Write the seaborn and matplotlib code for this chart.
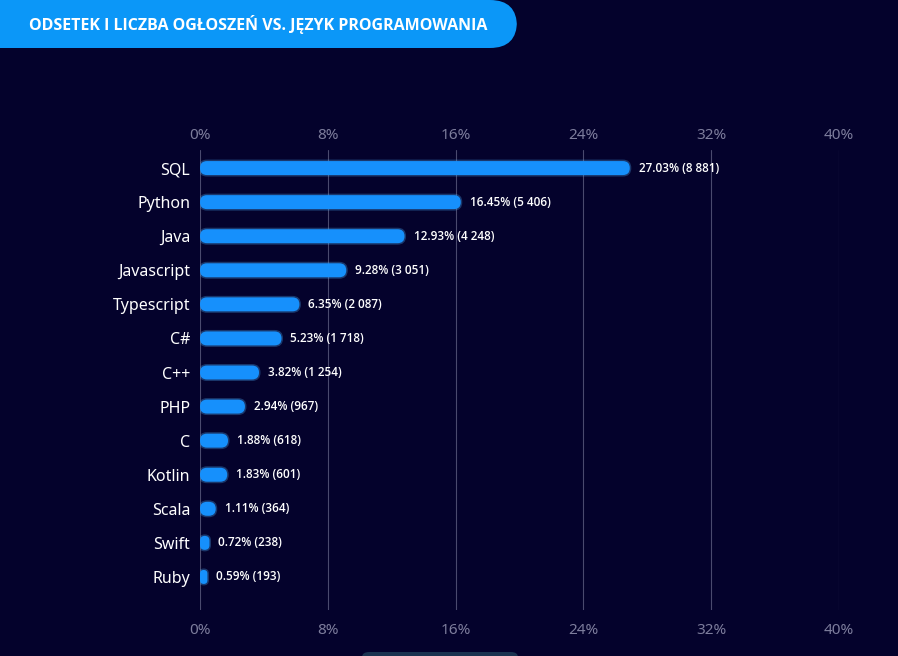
import matplotlib
matplotlib.use("Agg")
import matplotlib.pyplot as plt
from matplotlib.patches import FancyBboxPatch
from matplotlib.transforms import IdentityTransform
import pandas as pd
import seaborn as sns

languages = ["SQL", "Python", "Java", "Javascript", "Typescript", "C#", "C++",
             "PHP", "C", "Kotlin", "Scala", "Swift", "Ruby"]
shares = [27.03, 16.45, 12.93, 9.28, 6.35, 5.23, 3.82, 2.94, 1.88, 1.83, 1.11, 0.72, 0.59]
counts = [8881, 5406, 4248, 3051, 2087, 1718, 1254, 967, 618, 601, 364, 238, 193]
ticks = [0, 8, 16, 24, 32, 40]
title = "ODSETEK I LICZBA OGŁOSZEŃ VS. JĘZYK PROGRAMOWANIA"

bg = "#04022c"
bar_color = "#1690fc"
banner_color = "#0b97f8"
grid_color = "#4a4a6e"
tick_color = "#7d7d9c"

sns.set_theme(style="dark")
plt.rcParams["font.family"] = ["Noto Sans", "DejaVu Sans"]

df = pd.DataFrame({"lang": languages, "share": shares, "count": counts})

fig = plt.figure(figsize=(8.98, 6.56), dpi=100, facecolor=bg)
ax = fig.add_axes([200 / 898, 46 / 656, 639 / 898, 460 / 656])
ax.set_facecolor(bg)

sns.barplot(data=df, x="share", y="lang", color=bar_color, width=0.41, ax=ax)

ax.set_xlim(0, 40)
ax.set_ylim(12.97, -0.53)
ax.set_xticks(ticks)
ax.set_xticklabels([f"{t}%" for t in ticks])
ax.set_xlabel("")
ax.set_ylabel("")
for s in ax.spines.values():
    s.set_visible(False)
ax.grid(False)
for t in ticks:
    ax.axvline(t, color=grid_color, lw=0.8, zorder=0)

ax.tick_params(axis="x", length=0, pad=9, colors=tick_color, labelsize=11)
ax.tick_params(axis="y", length=0, pad=7, colors="white", labelsize=11.5)

top = ax.secondary_xaxis("top")
top.set_xticks(ticks)
top.set_xticklabels([f"{t}%" for t in ticks])
top.tick_params(axis="x", length=0, pad=5, colors=tick_color, labelsize=11)
for s in top.spines.values():
    s.set_visible(False)

# swap plain bars for rounded pills with a soft glow
fig.canvas.draw()
for patch in list(ax.patches):
    bb = patch.get_window_extent()
    patch.set_visible(False)
    w = max(bb.width - 2, 1.0)
    h = bb.height
    r = min(w, h) / 2
    ax.add_patch(FancyBboxPatch((bb.x0 - 1.5, bb.y0 - 1.5), w + 3, h + 3,
                                boxstyle=f"round,pad=0,rounding_size={r + 1.5}",
                                transform=IdentityTransform(), facecolor="#4db2ff",
                                alpha=0.3, lw=0, zorder=2))
    ax.add_patch(FancyBboxPatch((bb.x0, bb.y0), w, h,
                                boxstyle=f"round,pad=0,rounding_size={r}",
                                transform=IdentityTransform(), facecolor=bar_color,
                                lw=0, zorder=3))

for i, (v, c) in enumerate(zip(shares, counts)):
    label = f"{v:.2f}% ({c:,})".replace(",", " ")
    ax.annotate(label, (v, i), xytext=(5, 0), textcoords="offset points",
                va="center", ha="left", color="white", fontsize=8.5,
                fontweight="semibold", family=["Open Sans", "DejaVu Sans"])

# title banner
fig.patches.append(FancyBboxPatch((-30 / 898, 608 / 656), 547 / 898, 48 / 656,
                                  boxstyle="round,pad=0,rounding_size=0.03",
                                  mutation_aspect=898 / 656,
                                  transform=fig.transFigure, facecolor=banner_color,
                                  lw=0, zorder=1))
fig.text(258 / 898, 631 / 656, title, color="white", fontsize=11.5, fontweight="bold",
         ha="center", va="center", family=["Open Sans", "DejaVu Sans"])

# bottom partial tab
fig.patches.append(FancyBboxPatch((362 / 898, -10 / 656), 156 / 898, 14 / 656,
                                  boxstyle="round,pad=0,rounding_size=0.008",
                                  transform=fig.transFigure, facecolor="#1a3350",
                                  lw=0, zorder=1))

fig.savefig("out.png", dpi=100, facecolor=bg)
